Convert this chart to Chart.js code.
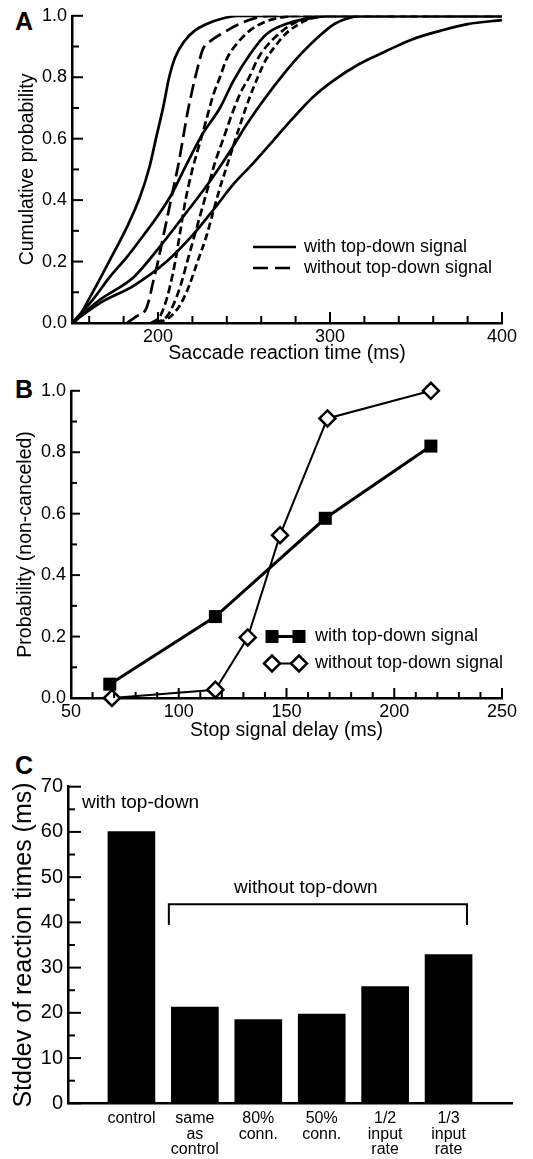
<!DOCTYPE html>
<html>
<head>
<meta charset="utf-8">
<script src="https://cdn.jsdelivr.net/npm/chart.js@4.4.1/dist/chart.umd.min.js"></script>
<style>
  body { margin: 0; background: #fff; }
  #page { position: relative; width: 533px; height: 1159px; overflow: hidden; font-family: "Liberation Sans", Arial, Helvetica, sans-serif; }
  #page canvas { position: absolute; left: 0; }
  .letter { position: absolute; left: 15px; font-size: 25px; font-weight: bold; line-height: 1; color: #000; }
</style>
</head>
<body>
<div id="page">
  <div class="letter" style="top:9px">A</div>
  <div class="letter" style="top:377px">B</div>
  <div class="letter" style="top:753px">C</div>
  <canvas id="chart-a" width="533" height="375" style="top:0;width:533px;height:375px"></canvas>
  <canvas id="chart-b" width="533" height="380" style="top:375px;width:533px;height:380px"></canvas>
  <canvas id="chart-c" width="533" height="404" style="top:755px;width:533px;height:404px"></canvas>
</div>
<script>
const FONT = '"Liberation Sans", Arial, Helvetica, sans-serif';

// ---- Panel A: cumulative reaction time curves, [ms, probability]
const withTopDown1 = [[150,0],[152,0.005],[161,0.09],[172,0.205],[182,0.313],[189.5,0.41],[195,0.507],[199,0.605],[203,0.702],[206.5,0.8],[210,0.865],[215,0.915],[221,0.95],[229,0.975],[238,0.992],[246,1],[400,1]];
const withTopDown2 = [[150,0],[162,0.075],[172,0.15],[182,0.215],[191.5,0.285],[200,0.35],[208,0.42],[216,0.51],[226,0.616],[236,0.7],[244,0.79],[253.5,0.875],[263,0.94],[277,0.978],[292,0.995],[298,1],[400,1]];
const withTopDown3 = [[150,0],[166,0.075],[186,0.15],[201,0.248],[216,0.356],[230,0.46],[242,0.56],[252,0.65],[262,0.73],[273,0.81],[283,0.875],[293,0.93],[303,0.975],[314,0.997],[320,1],[400,1]];
const withTopDown4 = [[150,0],[166,0.064],[186,0.122],[205,0.2],[220,0.285],[232,0.367],[244,0.453],[255,0.518],[267,0.594],[279,0.67],[290,0.735],[302,0.789],[317,0.843],[333,0.886],[348,0.924],[364,0.951],[380,0.973],[400,0.986]];

const withoutTopDown1 = [[182,0],[187,0.02],[193,0.045],[195,0.08],[197,0.13],[200,0.2],[203,0.28],[206,0.36],[209,0.44],[212,0.52],[214.5,0.6],[217,0.68],[220,0.76],[223,0.83],[226,0.89],[231,0.92],[238,0.945],[246,0.97],[255,0.99],[265,1],[400,1]];
const withoutTopDown2 = [[196,0],[201,0.02],[204,0.06],[207,0.12],[210,0.2],[213,0.3],[216,0.4],[220,0.5],[224,0.58],[228,0.66],[232,0.74],[236,0.8],[240,0.86],[246,0.91],[253,0.95],[262,0.98],[272,0.995],[280,1],[400,1]];
const withoutTopDown3 = [[198,0],[205,0.02],[209,0.06],[213,0.12],[217,0.2],[221,0.28],[225,0.36],[229,0.44],[233,0.52],[238,0.6],[243,0.68],[248,0.75],[253,0.8],[258,0.86],[263,0.9],[270,0.94],[277,0.97],[285,0.99],[295,1],[400,1]];
const withoutTopDown4 = [[200,0],[207,0.02],[213,0.06],[218,0.12],[223,0.2],[228,0.28],[232,0.36],[236,0.44],[240,0.51],[244,0.58],[248,0.65],[253,0.73],[258,0.8],[263,0.86],[268,0.9],[274,0.94],[281,0.97],[288,0.99],[298,1],[400,1]];

const A_X_TICKS = [160, 180, 200, 220, 240, 260, 280, 300, 320, 340, 360, 380, 400];
const A_X_LABELS = [200, 300, 400];
const A_Y_TICKS = [0, 0.1, 0.2, 0.3, 0.4, 0.5, 0.6, 0.7, 0.8, 0.9, 1.0];
const A_Y_LABELS = [0, 0.2, 0.4, 0.6, 0.8, 1.0];

// ---- Panel B: probability of non-canceled saccade vs stop signal delay
const SSD_WITH = [68, 117, 168, 217];
const P_WITH = [0.045, 0.265, 0.585, 0.82];
const SSD_WITHOUT = [69, 117, 132, 147, 169, 217];
const P_WITHOUT = [0.0, 0.027, 0.197, 0.53, 0.91, 1.0];

const B_X_TICKS = [50, 60, 70, 80, 90, 100, 110, 120, 130, 140, 150, 160, 170, 180, 190, 200, 210, 220, 230, 240, 250];
const B_X_LABELS = [50, 100, 150, 200, 250];

// ---- Panel C: stddev of reaction times
const C_CATEGORIES = ['', 'control', ['same', 'as', 'control'], ['80%', 'conn.'], ['50%', 'conn.'], ['1/2', 'input', 'rate'], ['1/3', 'input', 'rate'], ''];
const C_STDDEV = [null, 60.1, 21.3, 18.5, 19.7, 25.8, 32.9, null];
const C_Y_TICKS = [0, 5, 10, 15, 20, 25, 30, 35, 40, 45, 50, 55, 60, 65, 70];
const C_Y_LABELS = [0, 10, 20, 30, 40, 50, 60, 70];

Chart.defaults.font.family = FONT;
Chart.defaults.color = '#000';

function isLabelled(v, labels) {
  return labels.some(l => Math.abs(l - v) < 1e-6);
}
function fixedTicks(values) {
  return scale => { scale.ticks = values.map(v => ({ value: v })); };
}
function toPoints(xs, ys) {
  return xs.map((x, i) => ({ x: x, y: ys[i] }));
}

// tick marks drawn inside the plot, longer where the tick has a label
const innerTicks = {
  id: 'innerTicks',
  afterDraw(chart, args, opts) {
    const { ctx, chartArea } = chart;
    ctx.save();
    ctx.strokeStyle = '#000';
    ctx.lineWidth = 2;
    (opts.axes || []).forEach(ax => {
      const scale = chart.scales[ax.id];
      scale.ticks.forEach(t => {
        const p = scale.getPixelForValue(t.value);
        const len = isLabelled(t.value, ax.labels) ? ax.major : ax.minor;
        ctx.beginPath();
        if (scale.isHorizontal()) {
          ctx.moveTo(p, chartArea.bottom);
          ctx.lineTo(p, chartArea.bottom - len);
        } else {
          ctx.moveTo(chartArea.left, p);
          ctx.lineTo(chartArea.left + len, p);
        }
        ctx.stroke();
      });
    });
    ctx.restore();
  }
};

// small legend drawn inside the plot area
const boxLegend = {
  id: 'boxLegend',
  afterDraw(chart, args, opts) {
    if (!opts.items) return;
    const ctx = chart.ctx;
    ctx.save();
    ctx.font = '18px ' + FONT;
    ctx.textBaseline = 'middle';
    opts.items.forEach((item, i) => {
      const y = opts.y + i * opts.rowGap;
      ctx.strokeStyle = '#000';
      ctx.fillStyle = '#000';
      ctx.lineWidth = item.lineWidth || 2.5;
      ctx.setLineDash(item.dash || []);
      ctx.beginPath();
      ctx.moveTo(opts.x0, y);
      ctx.lineTo(opts.x1, y);
      ctx.stroke();
      ctx.setLineDash([]);
      if (item.marker === 'square') {
        [opts.x0, opts.x1].forEach(cx => ctx.fillRect(cx - 6.5, y - 6.5, 13, 13));
      } else if (item.marker === 'diamond') {
        [opts.x0, opts.x1].forEach(cx => {
          ctx.beginPath();
          ctx.moveTo(cx - 8, y); ctx.lineTo(cx, y - 8); ctx.lineTo(cx + 8, y); ctx.lineTo(cx, y + 8);
          ctx.closePath();
          ctx.fillStyle = '#fff'; ctx.fill();
          ctx.lineWidth = 2.5; ctx.stroke();
        });
      }
      ctx.fillStyle = '#000';
      ctx.fillText(item.text, opts.textX, y);
    });
    ctx.restore();
  }
};

function axisStyle() {
  return {
    grid: { display: false, drawTicks: false },
    border: { display: true, width: 2.5, color: '#000' }
  };
}

// ---------------- Panel A ----------------
const solidCurves = [withTopDown1, withTopDown2, withTopDown3, withTopDown4];
const dashedCurves = [withoutTopDown1, withoutTopDown2, withoutTopDown3, withoutTopDown4];
const dashPatterns = [[14, 6], [8, 4], [8, 4], [7, 4]];

const aDatasets = [];
solidCurves.forEach((c, i) => aDatasets.push({
  label: 'with top-down ' + (i + 1),
  data: c.map(([x, y]) => ({ x, y })),
  borderColor: '#000', borderWidth: 2.7, pointRadius: 0, cubicInterpolationMode: 'monotone'
}));
dashedCurves.forEach((c, i) => aDatasets.push({
  label: 'without top-down ' + (i + 1),
  data: c.map(([x, y]) => ({ x, y })),
  borderColor: '#000', borderWidth: 2.7, borderDash: dashPatterns[i], pointRadius: 0, cubicInterpolationMode: 'monotone'
}));

new Chart(document.getElementById('chart-a'), {
  type: 'line',
  data: { datasets: aDatasets },
  options: {
    responsive: false,
    animation: false,
    layout: { padding: { top: 15, right: 31, left: 0, bottom: 0 } },
    plugins: {
      legend: { display: false },
      tooltip: { enabled: false },
      innerTicks: { axes: [
        { id: 'x', labels: A_X_LABELS, major: 11, minor: 7 },
        { id: 'y', labels: A_Y_LABELS, major: 11, minor: 7 }
      ] },
      boxLegend: {
        x0: 253, x1: 296, textX: 304, y: 247, rowGap: 21,
        items: [
          { text: 'with top-down signal', dash: [] },
          { text: 'without top-down signal', dash: [15, 7] }
        ]
      }
    },
    scales: {
      x: Object.assign(axisStyle(), {
        type: 'linear', min: 150, max: 400,
        afterBuildTicks: fixedTicks(A_X_TICKS),
        afterFit: s => { s.height = 52; },
        ticks: { padding: 3, font: { size: 18 }, maxRotation: 0, autoSkip: false,
          callback: v => isLabelled(v, A_X_LABELS) ? String(v) : '' },
        title: { display: true, text: 'Saccade reaction time (ms)', font: { size: 19.5 }, padding: { top: 0, bottom: 10 } }
      }),
      y: Object.assign(axisStyle(), {
        type: 'linear', min: 0, max: 1,
        afterBuildTicks: fixedTicks(A_Y_TICKS),
        afterFit: s => { s.width = 72; },
        ticks: { padding: 5, font: { size: 18 }, autoSkip: false,
          callback: v => isLabelled(v, A_Y_LABELS) ? v.toFixed(1) : '' },
        title: { display: true, text: 'Cumulative probability', font: { size: 19.5 }, padding: { top: 16, bottom: 0 } }
      })
    }
  },
  plugins: [innerTicks, boxLegend]
});

// ---------------- Panel B ----------------
new Chart(document.getElementById('chart-b'), {
  type: 'line',
  data: {
    datasets: [
      {
        label: 'without top-down signal',
        data: toPoints(SSD_WITHOUT, P_WITHOUT),
        borderColor: '#000', borderWidth: 2, tension: 0,
        pointStyle: 'rectRot', pointRadius: 8, pointBorderWidth: 2.5,
        pointBackgroundColor: '#fff', pointBorderColor: '#000', clip: false
      },
      {
        label: 'with top-down signal',
        data: toPoints(SSD_WITH, P_WITH),
        borderColor: '#000', borderWidth: 3, tension: 0,
        pointStyle: 'rect', pointRadius: 9.2, pointBorderWidth: 0,
        pointBackgroundColor: '#000', pointBorderColor: '#000', clip: false
      }
    ]
  },
  options: {
    responsive: false,
    animation: false,
    layout: { padding: { top: 15, right: 31, left: 0, bottom: 0 } },
    plugins: {
      legend: { display: false },
      tooltip: { enabled: false },
      innerTicks: { axes: [
        { id: 'x', labels: B_X_LABELS, major: 10, minor: 6 },
        { id: 'y', labels: A_Y_LABELS, major: 9, minor: 6 }
      ] },
      boxLegend: {
        x0: 272, x1: 299, textX: 315, y: 261.5, rowGap: 27,
        items: [
          { text: 'with top-down signal', marker: 'square', lineWidth: 3 },
          { text: 'without top-down signal', marker: 'diamond', lineWidth: 2 }
        ]
      }
    },
    scales: {
      x: Object.assign(axisStyle(), {
        type: 'linear', min: 50, max: 250,
        afterBuildTicks: fixedTicks(B_X_TICKS),
        afterFit: s => { s.height = 57; },
        ticks: { padding: 3, font: { size: 18 }, maxRotation: 0, autoSkip: false,
          callback: v => isLabelled(v, B_X_LABELS) ? String(v) : '' },
        title: { display: true, text: 'Stop signal delay (ms)', font: { size: 19.5 }, padding: { top: 0, bottom: 13 } }
      }),
      y: Object.assign(axisStyle(), {
        type: 'linear', min: 0, max: 1,
        afterBuildTicks: fixedTicks(A_Y_TICKS),
        afterFit: s => { s.width = 71; },
        ticks: { padding: 5, font: { size: 18 }, autoSkip: false,
          callback: v => isLabelled(v, A_Y_LABELS) ? v.toFixed(1) : '' },
        title: { display: true, text: 'Probability (non-canceled)', font: { size: 19.5 }, padding: { top: 14, bottom: 0 } }
      })
    }
  },
  plugins: [innerTicks, boxLegend]
});

// ---------------- Panel C ----------------
const C_NOTES = [
  { text: 'with top-down', x: 0.22, y: 66.4, align: 'left' },
  { text: 'without top-down', x: 3.75, y: 47.6, align: 'center' }
];
const C_BRACKET = { from: 1.59, to: 6.29, top: 44, bottom: 39.4 };

const bracketNotes = {
  id: 'bracketNotes',
  afterDraw(chart) {
    const { ctx, scales: { x, y } } = chart;
    ctx.save();
    ctx.fillStyle = '#000';
    ctx.font = '19px ' + FONT;
    ctx.textBaseline = 'middle';
    C_NOTES.forEach(n => {
      ctx.textAlign = n.align;
      ctx.fillText(n.text, x.getPixelForValue(n.x), y.getPixelForValue(n.y));
    });
    const x0 = x.getPixelForValue(C_BRACKET.from), x1 = x.getPixelForValue(C_BRACKET.to);
    const yt = y.getPixelForValue(C_BRACKET.top), yb = y.getPixelForValue(C_BRACKET.bottom);
    ctx.strokeStyle = '#000';
    ctx.lineWidth = 2;
    ctx.beginPath();
    ctx.moveTo(x0, yb); ctx.lineTo(x0, yt); ctx.lineTo(x1, yt); ctx.lineTo(x1, yb);
    ctx.stroke();
    ctx.restore();
  }
};

new Chart(document.getElementById('chart-c'), {
  type: 'bar',
  data: {
    labels: C_CATEGORIES,
    datasets: [{
      label: 'Stddev of reaction times (ms)',
      data: C_STDDEV,
      backgroundColor: '#000',
      borderWidth: 0,
      barThickness: 47
    }]
  },
  options: {
    responsive: false,
    animation: false,
    layout: { padding: { top: 31.7, right: 21, left: 0, bottom: 0 } },
    plugins: {
      legend: { display: false },
      tooltip: { enabled: false },
      innerTicks: { axes: [
        { id: 'y', labels: C_Y_LABELS, major: 13, minor: 7 }
      ] }
    },
    scales: {
      x: Object.assign(axisStyle(), {
        type: 'category', offset: false,
        afterFit: s => { s.height = 55.7; },
        ticks: { padding: 8, font: { size: 16, lineHeight: 0.95 }, maxRotation: 0, autoSkip: false }
      }),
      y: Object.assign(axisStyle(), {
        type: 'linear', min: 0, max: 70,
        afterBuildTicks: fixedTicks(C_Y_TICKS),
        afterFit: s => { s.width = 68; },
        ticks: { padding: 5, font: { size: 20 }, autoSkip: false,
          callback: v => isLabelled(v, C_Y_LABELS) ? String(v) : '' },
        title: { display: true, text: 'Stddev of reaction times (ms)', font: { size: 25 }, padding: { top: 9, bottom: 0 } }
      })
    }
  },
  plugins: [innerTicks, bracketNotes]
});
</script>
</body>
</html>
